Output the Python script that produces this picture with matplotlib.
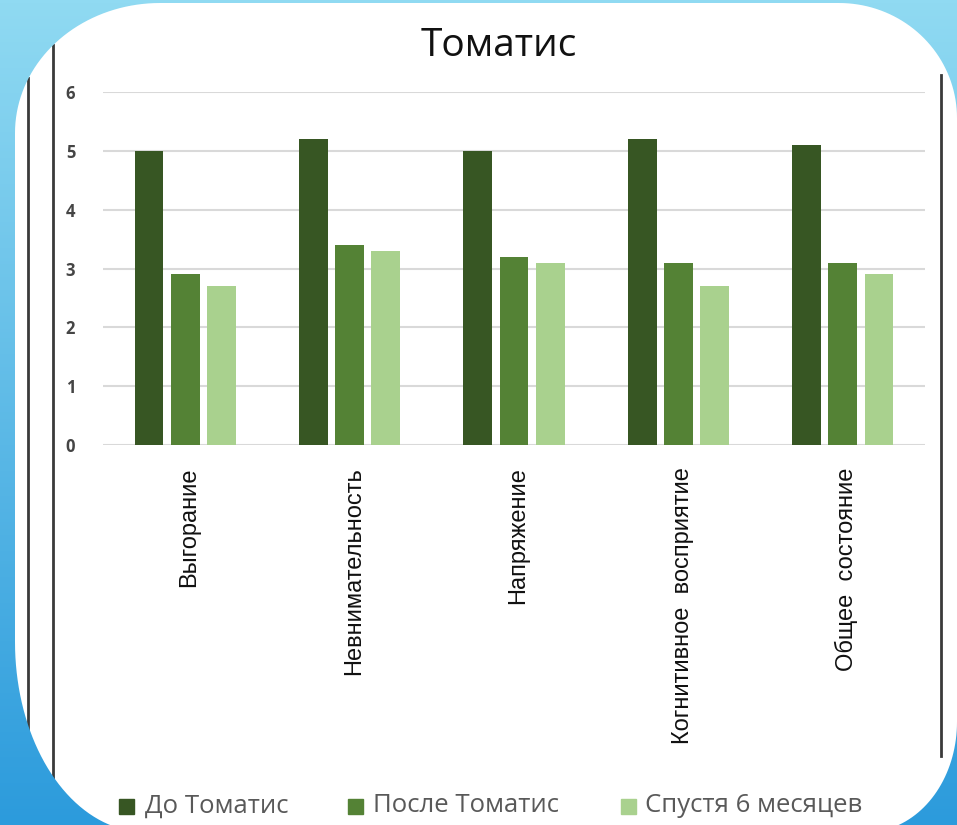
import numpy as np
import matplotlib
matplotlib.use("Agg")
import matplotlib.pyplot as plt
from matplotlib.patches import Rectangle, PathPatch
from matplotlib.path import Path

categories = ["Выгорание", "Невнимательность", "Напряжение",
              "Когнитивное  восприятие", "Общее  состояние"]
series_names = ["До Томатис", "После Томатис", "Спустя 6 месяцев"]
before = [5.0, 5.2, 5.0, 5.2, 5.1]
after = [2.9, 3.4, 3.2, 3.1, 3.1]
after_6m = [2.7, 3.3, 3.1, 2.7, 2.9]
colors = ["#375623", "#548235", "#A9D18E"]

W, H = 957, 825
fig = plt.figure(figsize=(W / 100, H / 100), dpi=100)
fig.patch.set_facecolor("white")

# frame lines of the slide
deco = fig.add_axes([0, 0, 1, 1], zorder=0)
deco.set_xlim(0, W)
deco.set_ylim(H, 0)
deco.axis("off")
for x, y0, y1 in [(28, 78, 752), (53, 45, 785), (941, 75, 756)]:
    deco.plot([x, x], [y0, y1], color="#3a3a3a", lw=2)

# legend, laid out like the original (square + label)
leg_sq_x = [119, 348, 621]
leg_txt_x = [145, 373, 645]
for sx, tx, c, name in zip(leg_sq_x, leg_txt_x, colors, series_names):
    deco.add_patch(Rectangle((sx, 799), 15, 15, color=c))
    deco.text(tx, 806, name, va="center", ha="left", family="Open Sans",
              fontsize=18.5, color="#595959")

# chart
ax = fig.add_axes([103 / W, 1 - 445 / H, (925 - 103) / W, (445 - 92) / H], zorder=1)
ax.patch.set_alpha(0)
x = np.arange(len(categories))
bw = 0.175
step = 0.22
for i, vals in enumerate([before, after, after_6m]):
    ax.bar(x + (i - 1) * step, vals, width=bw, color=colors[i], zorder=2)

ax.set_xlim(-0.5, len(categories) - 0.5)
ax.set_ylim(0, 6)
ax.set_yticks(range(7))
ax.yaxis.grid(True, color="#D9D9D9", lw=1.5, zorder=0)
ax.set_axisbelow(True)
for s in ax.spines.values():
    s.set_visible(False)
ax.tick_params(axis="y", length=0, pad=20, labelsize=12, labelcolor="#454545")
for t in ax.get_yticklabels():
    t.set_fontweight("bold")
    t.set_family("Open Sans")
ax.set_xticks(x + 0.025)
ax.set_xticklabels(categories, rotation=90, va="top", ha="center",
                   family="Liberation Sans", fontsize=17, color="#111111")
ax.tick_params(axis="x", length=0, pad=16)

fig.text(499 / W, 1 - 46 / H, "Томатис", ha="center", va="center",
         family="Open Sans", fontsize=28, color="#111111")

# blue slide background outside the rounded white panel, drawn on top
top = fig.add_axes([0, 0, 1, 1], zorder=5)
top.set_xlim(0, W)
top.set_ylim(H, 0)
top.axis("off")
grad = np.linspace(0, 1, 256)[:, None]
c0 = np.array([0x90, 0xDA, 0xF2]) / 255
c1 = np.array([0x2C, 0x9B, 0xDC]) / 255
img = c0[None, None, :] * (1 - grad[..., None]) + c1[None, None, :] * grad[..., None]
img = np.repeat(img, 4, axis=1)
im = top.imshow(img, extent=[0, W, H, 0], aspect="auto", zorder=1)


def arc(cx, cy, rx, ry, a0, a1, n=40):
    t = np.radians(np.linspace(a0, a1, n))
    return np.column_stack([cx + rx * np.cos(t), cy + ry * np.sin(t)])


L, R, T, B = 15, 957, 3, 832
inner = np.vstack([
    arc(L + 145, T + 130, 145, 130, 180, 270),
    arc(R - 118, T + 115, 118, 115, 270, 360),
    arc(R - 90, B - 110, 90, 110, 0, 90),
    arc(L + 130, B - 190, 130, 190, 90, 180),
])
inner = inner[::-1]
outer = np.array([[-10, -10], [W + 10, -10], [W + 10, H + 10], [-10, H + 10]])
verts = np.vstack([outer, outer[:1], inner, inner[:1]])
codes = ([Path.MOVETO] + [Path.LINETO] * 3 + [Path.CLOSEPOLY]
         + [Path.MOVETO] + [Path.LINETO] * (len(inner) - 1) + [Path.CLOSEPOLY])
clip = PathPatch(Path(verts, codes), transform=top.transData, facecolor="none", edgecolor="none")
top.add_patch(clip)
im.set_clip_path(clip)

fig.savefig("out.png", dpi=100)
